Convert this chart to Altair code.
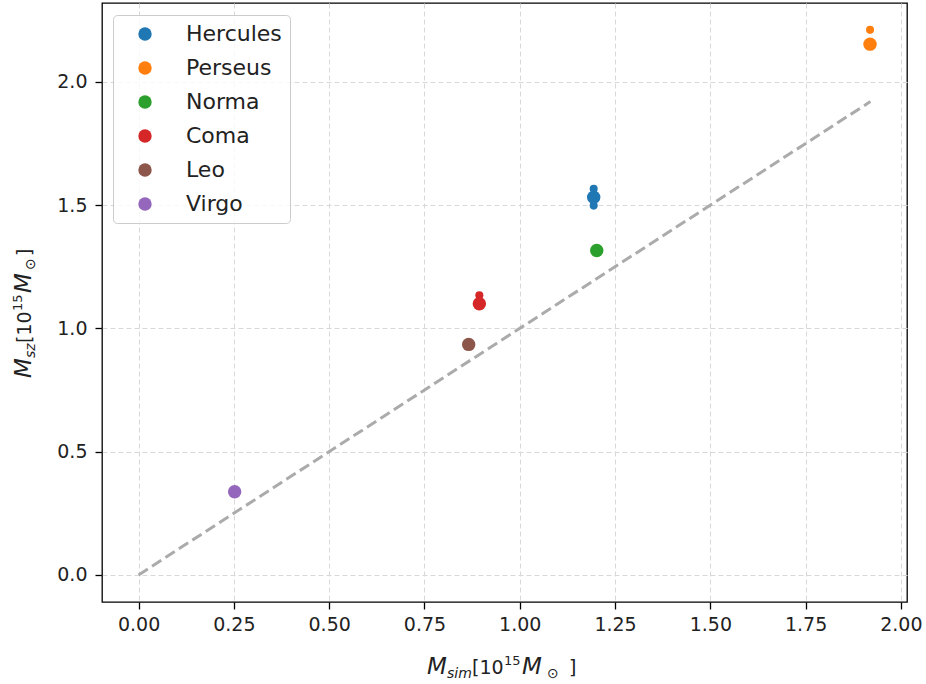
import altair as alt
import pandas as pd

# ---- data ----
clusters = ["Hercules", "Perseus", "Norma", "Coma", "Leo", "Virgo"]
colors = ["#1f77b4", "#ff7f0e", "#2ca02c", "#d62728", "#8c564b", "#9467bd"]
m_sim = [1.194, 1.919, 1.202, 0.894, 0.866, 0.252]
m_sz = [1.532, 2.153, 1.316, 1.100, 0.935, 0.337]

# smaller companion markers
extra_cluster = ["Hercules", "Hercules", "Perseus", "Coma"]
extra_sim = [1.194, 1.194, 1.919, 0.894]
extra_sz = [1.566, 1.498, 2.211, 1.134]

line_x = [0.0, 1.92]
line_y = [0.0, 1.92]

x_ticks = [0.0, 0.25, 0.5, 0.75, 1.0, 1.25, 1.5, 1.75, 2.0]
y_ticks = [0.0, 0.5, 1.0, 1.5, 2.0]

x_domain = [-0.096, 2.016]
y_domain = [-0.11, 2.32]

FONT = "DejaVu Sans"
W, H = 805, 599
OX, OY = 102, 3  # plot area offset in page

main_df = pd.DataFrame({"cluster": clusters, "msim": m_sim, "msz": m_sz})
extra_df = pd.DataFrame({"cluster": extra_cluster, "msim": extra_sim, "msz": extra_sz})
line_df = pd.DataFrame({"msim": line_x, "msz": line_y})

xscale = alt.Scale(domain=x_domain, nice=False, zero=False)
yscale = alt.Scale(domain=y_domain, nice=False, zero=False)
cscale = alt.Scale(domain=clusters, range=colors)

xaxis = alt.Axis(values=x_ticks, format=".2f", title=None, grid=True)
yaxis = alt.Axis(values=y_ticks, format=".1f", title=None, grid=True)

line = alt.Chart(line_df).mark_line(
    color="#ababab", strokeWidth=3, strokeDash=[11, 5]
).encode(
    x=alt.X("msim:Q", scale=xscale, axis=xaxis),
    y=alt.Y("msz:Q", scale=yscale, axis=yaxis),
)

pts = alt.Chart(main_df).mark_circle(size=180, opacity=1).encode(
    x=alt.X("msim:Q", scale=xscale),
    y=alt.Y("msz:Q", scale=yscale),
    color=alt.Color(
        "cluster:N",
        scale=cscale,
        sort=clusters,
        legend=alt.Legend(
            title=None,
            orient="none",
            legendX=11,
            legendY=12,
            padding=8,
            symbolOffset=13,
            symbolType="circle",
            symbolSize=180,
            symbolStrokeWidth=0,
            symbolOpacity=1,
            labelFontSize=22,
            labelFont=FONT,
            labelColor="#222222",
            labelOffset=30,
            rowPadding=12,
            fillColor="rgba(255,255,255,0.8)",
            strokeColor="#cccccc",
            cornerRadius=4,
        ),
    ),
)

small = alt.Chart(extra_df).mark_circle(size=65, opacity=1).encode(
    x=alt.X("msim:Q", scale=xscale),
    y=alt.Y("msz:Q", scale=yscale),
    color=alt.Color("cluster:N", scale=cscale, legend=None),
)


def piece(text, px, py, size, italic=False, angle=0):
    mk = dict(
        text=text,
        font=FONT,
        fontSize=size,
        align="left",
        baseline="alphabetic",
        color="#222222",
    )
    if italic:
        mk["fontStyle"] = "italic"
    if angle:
        mk["angle"] = angle
    return alt.Chart(pd.DataFrame({"a": [0]})).mark_text(**mk).encode(
        x=alt.value(px - OX), y=alt.value(py - OY)
    )


title_layers = [
    # x title: M_sim[10^15 M_sun]
    piece("M", 427, 674, 23, True),
    piece("sim", 447, 678, 14, True),
    piece("[10", 472, 674, 19),
    piece("15", 504, 665, 13),
    piece("M", 522, 674, 23, True),
    piece("\u2299", 547, 678, 14),
    piece("]", 569, 674, 19),
    # y title: M_sz[10^15 M_sun]
    piece("M", 31, 378, 23, True, 270),
    piece("sz", 35, 358, 14, True, 270),
    piece("[10", 31, 343, 19, False, 270),
    piece("15", 22, 311, 13, False, 270),
    piece("M", 31, 293, 23, True, 270),
    piece("\u2299", 35, 270, 14, False, 270),
    piece("]", 31, 256, 19, False, 270),
]

chart = alt.layer(line, pts, small, *title_layers).properties(
    width=W,
    height=H,
    autosize=alt.AutoSizeParams(type="none"),
    padding={"left": OX, "top": OY, "right": 926 - OX - W, "bottom": 684 - OY - H},
    background="white",
).configure_view(
    stroke="#000000", strokeWidth=1.3
).configure_axis(
    domain=False,
    gridColor="#d8d8d8",
    gridDash=[5, 3],
    gridWidth=1,
    tickColor="#000000",
    tickSize=7,
    tickWidth=1.3,
    labelFont=FONT,
    labelFontSize=19,
    labelColor="#222222",
    labelPadding=8,
).configure_axisX(
    labelPadding=6
)

chart.save("out.html", embed_options={"renderer": "svg", "actions": False})
